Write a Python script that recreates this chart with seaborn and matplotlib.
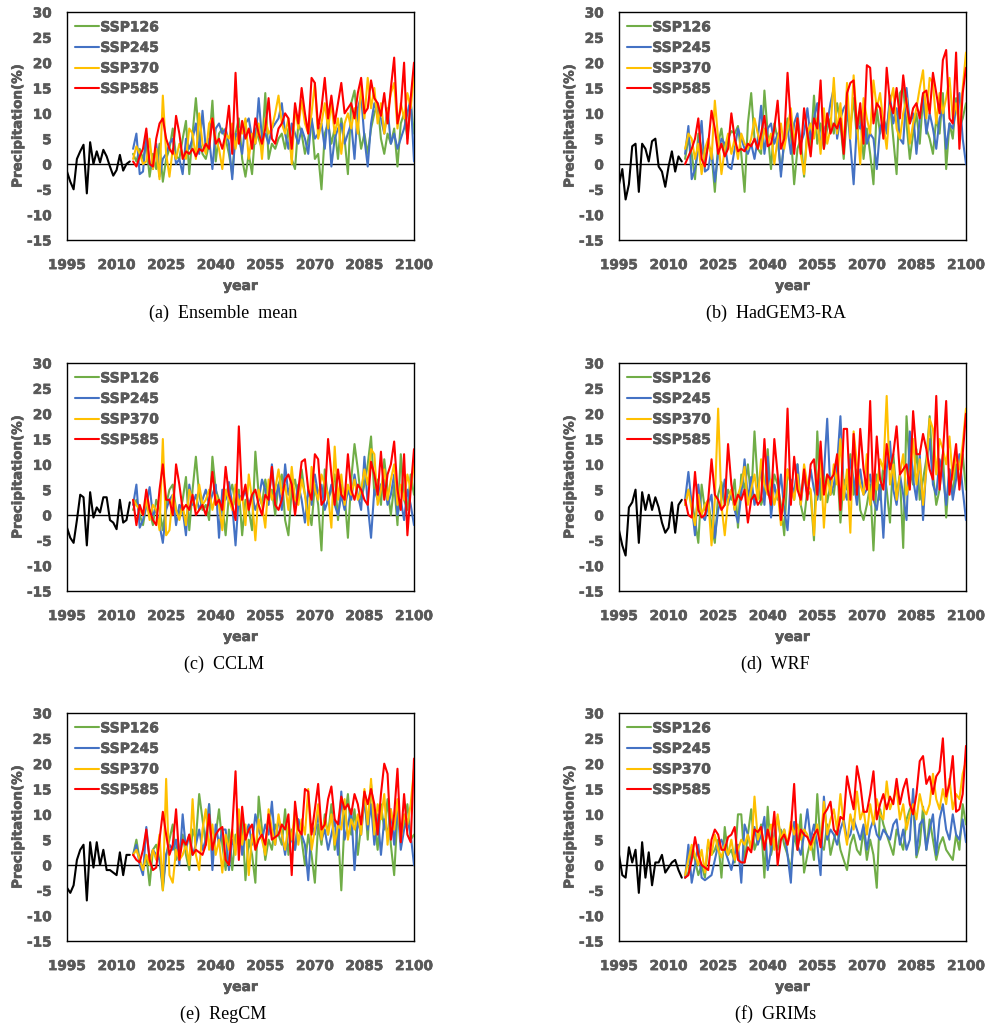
import numpy as np
import pandas as pd
import matplotlib
matplotlib.use("Agg")
import matplotlib.pyplot as plt
import matplotlib.patheffects as pe
import seaborn as sns
from matplotlib.lines import Line2D

# ---------------- data ----------------
years_hist = list(range(1995, 2015))
years_ssp = list(range(2015, 2101))
scenarios = ["SSP126", "SSP245", "SSP370", "SSP585"]
colors = ["#70AD47", "#4472C4", "#FFC000", "#FF0000"]
panel_titles = ["(a)  Ensemble  mean", "(b)  HadGEM3-RA", "(c)  CCLM",
                "(d)  WRF", "(e)  RegCM", "(f)  GRIMs"]
x_ticks = [1995, 2010, 2025, 2040, 2055, 2070, 2085, 2100]
y_ticks = [-15, -10, -5, 0, 5, 10, 15, 20, 25, 30]

# (a) Ensemble mean
hist_a = [-1.5, -3.5, -5, 1, 2.5, 3.8, -5.8, 4.3, 0, 2.5, 0.3, 2.8, 1.5, -0.5, -2.3, -1.2, 1.8, -1.3, 0, 0.5]
ssp126_a = [2, 0.5, 3, 1, 4, -2.5, 2, -1, 4, -3.5,
            1, 3, 7, 1.5, 1, 5, 8.5, -2, 6, 13,
            5, 2, 1, 4, 12.5, 0.5, 6, 7, 5, 2,
            -2, 6, 9, 1, -2.5, 2, -2, 7, 5, 3,
            14, 1, 4, 3, 5, 6, 3, 7, 1, -1,
            8, 6, 2, 5, 9, 1, 2, -5, 6, 8,
            4, 7, 1, 9, 5, -2, 12, 14.5, 8, 3,
            6, 2, 7, 10, 12, 5, 2, 6, 4, 7,
            -0.5, 8, 10, 5, 12, 6]
ssp245_a = [3, 6, -2, -1.5, 6, 0, -1, 4, -2.5, 1,
            2, 4, 5, 0, 1, -2, 5, 3, 5, 8,
            2, 10.5, 3, 5, -1, 7, 8, 6, 7, 4,
            -3, 6, 5, 2, 8, 9, 5, 4, 13, 5,
            6, 4, 7, 8, 9, 12, 6, 3, 8, 6,
            4, 7, 5, 2, 9, 5, 6, 8, 3, 10,
            -0.5, 5, 7, 8, 4, 6, 8, 1, 11, 13.5,
            5, -0.5, 8, 12, 10, 9, 6, 11, 4, 6,
            3, 5, 7, 10, 13, 0.5]
ssp370_a = [1, 3.5, 2, 0, 0.5, 5, -1, 3, -3, 13.5,
            2, -2.5, 3, 1, 4, 2, 1, 7, 6, 1,
            10, 4, 2, 8, 9, 5, 3, -1, 6, 5,
            8, 3, 7, 6, 9, 1, 6, 4, 8, 1,
            9, 6, 7, 10, 13.5, 8, 6, 9, 0, 11,
            7, 12.5, 8, 6, 10, 16, 5, 8, 12, 7,
            12, 6, 9, 2, 8, 10, 7, 11, 6, 15.5,
            9, 17, 11, 15, 8, 12, 6, 10, 14, 16,
            7, 12, 9, 14, 11, 17.5]
ssp585_a = [0.5, -0.5, 1.5, 3, 7, 0, -0.5, 5, 8, 9,
            5, 3, 2, 9.5, 6, 1, 2.5, 2, 3, 1.5,
            3, 2.5, 4, 3, 9, 4, 5, 3, 6, 11.5,
            2, 18, 4, 8.5, 5, 7, 3, 9, 6, 4,
            7, 13, 5, 4, 7, 8, 10, 9, 3, 12,
            8, 15, 10, 6, 17, 16, 7, 11, 17, 9,
            13.5, 8, 12, 16, 10, 11, 12, 9, 14, 17,
            10, 11, 16.5, 13, 12, 9.5, 14, 8, 15, 21,
            8, 11, 20, 4, 13, 20]

# (b) HadGEM3-RA
hist_b = [-4, -1, -7, -4, 3.5, 4, -5.5, 4, 3, 0.5, 4.5, 5, -0.5, -1.5, -4.5, -0.5, 2.5, -1.5, 1.5, 0.5]
ssp126_b = [1, 5, 2, -3, 6, 3, 1, 4, 2, -5.5,
            4, 7, 2, 5, 6.5, 6, 7.5, 2, -5.5, 8,
            14, 5, 3, 2, 14.5, 6, -1, 8, 5, -1.5,
            4, 9, 6, -4, 3, 5, -2.5, 7, 3, 13.5,
            4, 8, 3, 7, 9, 6, 12, 8, 1, 10,
            7, 13, 5, 10, 1, 7, 2, -4, 11, 6,
            9, 7, 12, 5, -2, 14, 15, 8, 1, 6,
            10, 4, 13, 7, 5, 2, 9, 6, 14, -1,
            8, 5, 13, 7, 9, 12]
ssp245_b = [2, 7.5, -3, -1, 3, 8.5, -1.5, -1, 3, -3.5,
            2, 5, 4, -0.5, -1, 3, 7, 5, 3, 2,
            4, 1, 5, 11.5, 2, 7, 8, 4, 6, -2.5,
            5, 7, 2, 8, 10, 4, 6, 11, 5, 9,
            12, 3, 7, 8, 12, 15, 5, 9, 11, 12,
            4, -4, 8, 7, 10, 4, 6, 5, -1, 7,
            9, 6, 13.5, 8, 11, 5, 4, 15, 8, 10,
            2, 9, 13.5, 6, 10, 7, 3, 9, 11, 3,
            8, 7, 11, 14, 5, 0]
ssp370_b = [3, 6, 5, 1, 4, -2, 3, 5, 1, 12.5,
            5, -2, 3, 6, 2, 5, 1, 6, 4, 3,
            5, 9, 6, 3, 7, 4, 6, 0, 5, 8,
            3, 7, 11, 4, 9, 2, -2, 6, 8, 5,
            9, 2, 11, 4, 7, 17, 6, 12, 3, 16,
            5, 17.5, 8, 0, 13, 9, 6, 16.5, 11, 14,
            8, 3, 12, 15, 7, 5, 10, 13, 4, 8,
            11, 15, 18.5, 9, 17, 16, 8, 14, 10, 13,
            17, 9, 12, 7, 15, 22]
ssp585_b = [0, 1.5, 3, 5, 9, 1, -0.5, 4, 10.5, 7,
            2, 4, 1.5, 3, 10, 5, 2.5, 3, 2.5, 4,
            3.5, 5, 3, 6, 9.5, 3.5, 4, 7, 12.5, 3,
            5, 18, 8, 2, 9, 2, 11, 6, 1.5, 9,
            7, 16.5, 3, 10, 6, 8, 7, 9, 2, 14,
            16, 16.5, 7, 12, 4, 19.5, 19, 8, 12, 11,
            5, 19, 12, 10, 15, 9, 17.5, 12, 8, 11,
            12, 9, 14, 14.5, 10, 18, 14, 10, 20.5, 22.5,
            9, 8, 22, 3, 14, 19]

# (c) CCLM
hist_c = [-2.5, -4.5, -5.5, -1, 4, 3.5, -6, 4.5, -0.5, 1.5, 0.5, 3.5, 3.5, -1, -1.5, -2.8, 3, -1.5, -1, 2.5]
ssp126_c = [1, 3, 0, -2, 2, 1, -2, 3, 1, -3,
            2, 5, 6, 1, 0, 3, 7.5, -3, 5, 11.5,
            4, 1, 2, -1, 11.5, 5, 3, 2, -4, 4,
            6, 2, 5, -4, 3, 1, -3, 12.5, 4, 2,
            7, 3, 5, 0, 6, 8, -1, -4, 5, 7,
            3, 9, 4, 1, -2, 6, 2, -7, 9, 3,
            5, 8, -1, 6, 4, -4.5, 7, 14, 9, 3,
            6, 10, 15.5, 4, 7, 2, 11, 5, 0, 6,
            -2, 12, 3, 1, 8, 4]
ssp245_c = [2, 6, -2.5, -1, 2, 5.5, 0, 1, -2, -5.5,
            1, 3, 4, -2, 2, 1, -4, 6, 2, 4,
            1, 3, 5, 2, 4, 6, -4.5, 5, 3, 6.5,
            2, -6, 4, 3, 5, 2, 4, 1, 3, 7,
            5, 2, 10, 3, 6, 1, 10, 4, 7, 2,
            6, 3, -1.5, 5, 2, 8, 4, 6, 1, 3,
            6, 2, 0, 4, 1, 5, 3, 8, 4, 1,
            11.5, 2, -4.5, 5, 3, 6, 7, 2, 4, 8,
            0, 3, -1, 5, 2, -2]
ssp370_c = [3, 2, 1, 0, 3, -1, 2, 1, -3, 15,
            -4, -3, 4, 1, -1, 2, -2, 5, 3, 1,
            6, 2, 3, 5, 1, 4, 2, -3, 5, 3,
            1, 6, 2, 4, -2, 8, 3, -5, 5, 2,
            -2.5, 7, 3, 5, 9, 4, 6, 1, 9.5, 3,
            2, 7, 4, -2, 9.5, 5, 3, 8, 6, 4,
            -2.5, 13.5, 3, 8, 2, 6, 4, 7, 3, 5,
            9, 6, 13, 12, 2, 5, 9, 3, 7, 10,
            2, 6, 3, 8, 5, 10]
ssp585_c = [3, -2, 2, 0, 5, 1, -1, -2, 5, 10,
            3, 3, 0, 10, 6, 1, 2, 1, 4, 0,
            1, 2, 0, 3, 8.5, 2, 3, 1, 9.5, 4,
            2, -1, 17.5, 3, 6, 1, 4, 5, 2, 0,
            4, 3, 9.5, 2, 1, 3, 7, 8, 6, 0,
            5, 10.5, 11, 5, 3, 12, 11, 2, 3, 15,
            8, 2, 9, 4, 3, 12, 5, 3, 6, 5,
            3, 2, 10.5, 8, 4, 12.5, 3, 8, 10, 14.5,
            5, 1, 12, -4, 5, 13]

# (d) WRF
hist_d = [-3, -6, -8, 1.5, 2.5, 5, -5.5, 4.5, 1, 4, 1, 3.5, 1.5, -1.5, -3.5, -2.5, 2.5, -3.5, 2, 3]
ssp126_d = [2, 5, 3, -1, -5.5, 6, 1, 3, -2, -5.5,
            4, 6.5, 2, 5, 3, 7, -2.5, 8, 5, 10,
            3, 16.5, 6, 2, 4, 13, 3, 8, 6, 2,
            -4, 9, 6, 3, 10, 2, -1, 5, 4, -5,
            16.5, 3, 8, 2.5, 6, 4, 10, -1.5, 7, 5,
            12, 4, 9, 1, -1, 2, 6, -7, 8, 3,
            10, 5, -1.5, 12, 4, 8, -6.5, 19.5, 9, 6,
            13, 3, 7, 11, 19.5, 8, 2, 5, 12, -0.5,
            9, 4, 10, 6, 12, 5]
ssp245_d = [3, 8.5, 2, -4, 6, 0, -1, 2, 4, -4.5,
            1, 3, 7, 2, 5, 1, -1.5, 4, 11, 3,
            7.5, 2, 5, 9, 2, 11.5, -0.5, 6, 3, 8,
            1, -3, 7, 4, 10, 2, 8, 4, 9, 5,
            3, 7, 8, 19, 4, 6, 10, 19.5, 5, 3,
            11, 7, 2, 9, 4, 5, 8, 3, 1, 6,
            -4.5, 9, 14.5, 5, 2, 8, 4, -1, 16.5, 7,
            3, 12, -1, 10, 15, 6, 4, 11, 8, 2,
            9, 3, 7, 12, 5, -1]
ssp370_d = [2, 5, 1, -2, 4, 0, 2, 3, -6, 3,
            21, 2, -4, 3, 5, 1, 4, 6, 9.5, 2,
            5, 8, 3, 11, 6, 4, 7, 2, 5, -2,
            4, 9, 6, 3, 8, 2, 10, 6, 5, -4,
            7, 11, -2.5, 8, 4, 10, 6, 15, 3, 9,
            -3.5, 16.5, 10, 6, 4, 12, 2, 8, 5, 11,
            9, 23.5, 6, 10, 3, 8, 12, 4, 7, 15,
            6, 11, 2, 9, 19, 17, 8, 15, 13, 10,
            15.5, 7, 12, 9, 14, 21]
ssp585_d = [3, 0, -0.5, 8.5, 1, -0.5, 0, 3, 11, 4,
            3, 1, 2, 14, 6, 2, 4, 3, 5, -1.5,
            3, 4, 2, 3, 15, 5, 2, 15, 8, -1,
            4, 21, 2, 11.5, 5, 3, 9, 3, 10, 11,
            4, 14.5, 4, 8, 7, 8, 12, 1, 17, 17,
            3, 16, 4, 17, 9, 5, 22.5, 3, 15.5, 7,
            5, 14, 9, 12, 17.5, 8, 9, 10, 5, 20.5,
            12, 12, 16, 13, 9, 7, 23.5, 5, 12, 22.5,
            4, 9, 14, 5, 12, 20]

# (e) RegCM
hist_e = [-4.5, -5.5, -4, 1, 3, 4, -7, 4.5, -0.5, 4.5, 0, 3, -1, -1, -1.5, -2, 2.5, -2, 2, 2]
ssp126_e = [2, 5, 1, -1, 2, -4, 3, 4, 1, -5,
            2, 5, 8, 1, 3, 6, 2, -1, 7, 5,
            14, 9, 4, 12, 2, 6, 11, 4, -1, 7,
            -1, 6, 4, 9, -3, 5, 2, -3.5, 13.5, 7,
            1, 5, 3, 8, 6, 4, 11, 2, 7, 3,
            9, 5, 0, 6, 2, -3.5, 8, 4, 10, 6,
            12, 3, 7, -5, 9, 14, 6, 11, 2, 8,
            14, 5, 16, 9, 3, 12, 7, 13, 4, -2,
            10, 6, 8, 12, 5, 6]
ssp245_e = [2, 4, 0, -2, 7.5, 1, 3, 2, 1, -4,
            2, 4, 3, 5, 0, 10, 3, 6, 2, 4,
            7, 3, 5, 12, -1, 8, 4, 7, 7, -1,
            5, 3, 9, 2, 6, 8, 4, 10, 7, 5,
            8, 6, 12.5, 4, 9, 6, 2, 7, 5, 3,
            9, 6, 4, -3, 8, 6, 10, 5, 7, 3,
            6, 9, 2, 14.5, 5, 8, 11, -1, 9, 6,
            13, 7, 12, 4, 10, 2, 9, 6, 11, 4,
            12, 3, 7, 9, 6, 0]
ssp370_e = [2, 3, 1, -1, 2, 0, 3, 1, 6, -5,
            17, -2, -3.5, 3, 1, 2, 4, 0, 13, 2,
            -1, 7, 11, 3, 8, 2, 5, -1.5, 6, 3,
            7, 2, 11, 4, 8, -2, 6, 3, 9, 5,
            2, 11, 7, 4, 10, 6, 3, 8, 5, 11,
            4, 9, 6, 15, 3, 7, 12, 5, 9, 6,
            10, 4, 8, 7, 13, 5, 9, 7, 10, 6,
            15, 8, 17, 6, 12, 9, 14, 4, 11, 7,
            13, 5, 10, 8, 12, 19]
ssp585_e = [2, 1, 0.5, 3, 7, 1, -1, -0.5, 5, 10.5,
            6, 2, 4, 11, 1, 5, 4, 6, 2, 3,
            2.5, 2, 4, 10, 3, 6, 7, 7.5, 1, 0,
            7, 18.5, 1, 11.5, 5, 7, 8, 3, 5, 6,
            4, 10, 5, 5.5, 6, 8, 7, 10, -2, 12.5,
            7, 6, 15, 14.5, 6, 11, 16, 7, 8, 13,
            15.5, 9, 8, 13.5, 11, 12, 10, 14, 12, 8,
            14.5, 12, 15, 12, 6, 14, 20, 18, 5, 10,
            19, 4.5, 14, 6, 4.5, 21]

# (f) GRIMs
hist_f = [2, -2, -2.5, 3.5, 0.5, 3, -5.5, 4.5, -2.5, 2.5, -4, 0.5, 0.5, 2, -1.5, -0.5, 0.5, 1, -1, -2.5]
ssp126_f = [-2.5, -1.5, 3, 1, -2, 0, -2.5, 4.5, 2, 3,
            5, -2.5, 7.5, 2, 3, 0.5, 10, 10, 0.5, 6,
            11, 3, 5, 8, -2.5, 11.5, 2, 5, 3, 7,
            4, 2, -1, 6, 3, 10, -1.5, 2, 5, 1,
            14, 4, 3, 8, 2, 5, 7, 3, 1, -1,
            4, 6, 3, 2, 7, 1, 5, 2, -4.5, 11,
            8, 6, 4, 2, 7, 5, 3, 9, 11, 12,
            1.5, 4, 11.5, 3, 9, 5, 1, 4, 5.5, 3,
            2, 1, 6, 3, 12, 8]
ssp245_f = [-2.5, 4, -3.5, 0, 4, -2.5, -3, -2.5, -2, 1,
            4, 5, 3, 1, -1, 2, 4, -3.5, 8, 6,
            3, 7.5, 4, 6, 9.5, -1, 3, 6, 9.5, 5,
            7, 2, -3.5, 8.5, 4, 2, 6, 11, 5, 8,
            4, -2, 13.5, 5, 7, 6, 4, 7, 9, 5,
            6, 9, 7, 5, 8, 3, 7, 9, 6, 5,
            7, 6, 5, 8, 9, 4, 7, 3, 5, 15,
            2, 8, 9, 3, 7, 10, 2, 9, 12, 7,
            5, 10, 6, 5, 9, 4.5]
ssp370_f = [-2, 1, 4, 2, 0, 3, -1.5, 5, 2, 6,
            3, 1.5, 4, 2, 5, 1, 3, 5, 4, 6,
            3, 13.5, 5, 7, 4, 6, 8, 3, 10, 5,
            7, 4, 8.5, 6, 8, 5, 7, 6, 3, 5,
            8, 4, 12.5, 6, 9, 11, 7, 14, 8, 4,
            10, 7, 14.5, 9, 11, 6, 12, 8, 13, 10,
            9, 16.5, 11, 13, 15, 9, 12, 7, 10, 12,
            9, 14, 11, 10, 12, 18, 13, 11, 15, 12,
            17, 11, 14, 13, 18, 20.5]
ssp585_f = [-2.5, -2, 1, 5.5, 2, 0, -0.5, -1, 5, 7,
            6, 3, 3, 5.5, 6, 7.5, 1, 0.5, 0.5, 3.5,
            2.5, 7, 6.5, 7.5, 3, 7, 4, 10.5, 0, 5,
            6, 4, 7, 16, 3, 7, 6, 5.5, 4, 6,
            7, 3.5, 10, 11, 12.5, 7, 6, 9.5, 9, 17.5,
            14, 11, 19.5, 16, 10.5, 10.5, 14, 18.5, 9, 12,
            14, 11, 13.5, 12, 17, 12, 15, 17, 12, 10,
            14, 20.5, 21.5, 16, 17.5, 14, 17.5, 18.5, 25, 13.5,
            16, 21.5, 10.5, 11, 14, 23.5]

hist_all = [hist_a, hist_b, hist_c, hist_d, hist_e, hist_f]
ssp_all = [
    [ssp126_a, ssp245_a, ssp370_a, ssp585_a],
    [ssp126_b, ssp245_b, ssp370_b, ssp585_b],
    [ssp126_c, ssp245_c, ssp370_c, ssp585_c],
    [ssp126_d, ssp245_d, ssp370_d, ssp585_d],
    [ssp126_e, ssp245_e, ssp370_e, ssp585_e],
    [ssp126_f, ssp245_f, ssp370_f, ssp585_f],
]

# ---------------- style ----------------
sns.set_style("white")
plt.rcParams["font.family"] = ["DejaVu Sans"]
plt.rcParams["axes.unicode_minus"] = False
GRAY = "#595959"
HEAVY = [pe.withStroke(linewidth=0.45, foreground=GRAY)]

W, H = 996, 1032
fig = plt.figure(figsize=(W / 100, H / 100), dpi=100)

col_left = [67, 619]
row_top = [12, 363, 713]
ax_w, ax_h = 347, 228

for i in range(6):
    r, c = divmod(i, 2)
    x0, y0 = col_left[c], row_top[r]
    ax = fig.add_axes([x0 / W, 1 - (y0 + ax_h) / H, ax_w / W, ax_h / H])

    ax.axhline(0, color="black", lw=1.0, zorder=1)
    hv = hist_all[i]
    sns.lineplot(x=years_hist[:len(hv)], y=hv, color="black", lw=1.5, ax=ax, legend=False, zorder=3)
    for s, vals, col in zip(scenarios, ssp_all[i], colors):
        if len(vals) != len(years_ssp):
            print("length mismatch", panel_titles[i], s, len(vals))
        n = min(len(vals), len(years_ssp))
        sns.lineplot(x=years_ssp[:n], y=vals[:n], color=col, lw=1.5, ax=ax, legend=False, zorder=3)

    ax.set_xlim(1995, 2100)
    ax.set_ylim(-15, 30)
    ax.set_xticks(x_ticks)
    ax.set_yticks(y_ticks)
    ax.set_xlabel("")
    ax.set_ylabel("")
    for sp in ax.spines.values():
        sp.set_visible(True)
        sp.set_color("black")
        sp.set_linewidth(1.0)
    ax.tick_params(axis="both", length=0, labelsize=9.8, labelcolor=GRAY)
    ax.tick_params(axis="y", pad=11)
    ax.tick_params(axis="x", pad=13)
    for lab in ax.get_xticklabels() + ax.get_yticklabels():
        lab.set_fontweight("bold")
        lab.set_path_effects(HEAVY)

    ax.text(0.5, -(274 - ax_h) / ax_h, "year", transform=ax.transAxes,
            ha="center", va="center", fontsize=10, fontweight="bold", color=GRAY,
            path_effects=HEAVY)
    ax.text(-49 / ax_w, 0.5, "Precipitation(%)", transform=ax.transAxes, rotation=90,
            ha="center", va="center", fontsize=9.7, fontweight="bold", color=GRAY,
            path_effects=HEAVY)

    handles = [Line2D([0], [0], color=col, lw=1.5) for col in colors]
    leg = ax.legend(handles, scenarios, loc="upper left", frameon=False,
                    prop={"weight": "bold", "size": 10}, handlelength=1.7,
                    handletextpad=0.1, labelspacing=0.47, borderaxespad=0.2,
                    borderpad=0.4)
    for t in leg.get_texts():
        t.set_color(GRAY)
        t.set_path_effects(HEAVY)

    cx = (x0 + ax_w / 2 - 17) / W
    cy = 1 - (y0 + 301) / H
    fig.text(cx, cy, panel_titles[i], ha="center", va="center",
             fontsize=13, family=["Liberation Serif", "DejaVu Serif"], color="black")

fig.savefig("out.png", dpi=100)
